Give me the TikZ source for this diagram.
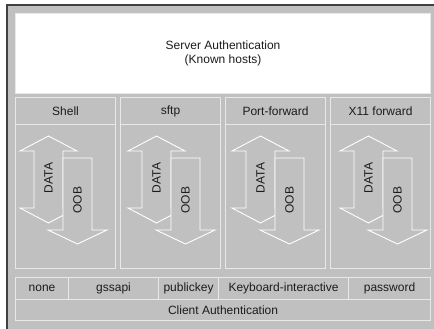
\documentclass[tikz,border=0pt]{standalone}
\usepackage{fontspec}
\setmainfont{Liberation Sans}
\usetikzlibrary{positioning}
\definecolor{PanelGray}{RGB}{192,192,192}
\definecolor{EdgeLight}{RGB}{232,232,232}
\definecolor{FrameDark}{RGB}{64,64,64}
\definecolor{TextDark}{RGB}{28,28,28}

\begin{document}
\begin{tikzpicture}[x=1pt,y=-1pt,
  box/.style={draw=EdgeLight,line width=1.1pt,fill=PanelGray,inner sep=0pt,
    anchor=north west,text=TextDark,font=\fontsize{12}{14.5}\selectfont},
  flow/.style={draw=white,line width=0.9pt,fill=PanelGray,line join=miter},
  flowtext/.style={rotate=90,text=TextDark,inner sep=0pt,font=\fontsize{12}{14}\selectfont}]
  \useasboundingbox (0,0) rectangle (434,329);
  \fill[PanelGray] (7,5) rectangle (434,329);
  \draw[FrameDark,line width=2pt] (7,329) -- (7,5) -- (434,5);
  \node[box,fill=white,minimum width=415pt,minimum height=80pt,align=center]
    (server) at (15,13) {Server Authentication\\(Known hosts)};
  % channels
  \foreach \i/\cx/\ax/\lab in {1/15/48.5/Shell,2/120/156.5/sftp,
      3/225/260.5/Port-forward,4/330/368.5/X11 forward}{
    \pgfmathsetmacro{\bx}{\ax+29}
    \node[box,minimum width=100pt,minimum height=171pt] (chan\i) at (\cx,97) {};
    \node[box,minimum width=100pt,minimum height=27pt] (head\i) at (\cx,97) {\lab};
    \draw[flow] (\ax,136) -- ({\ax+28.5},151) -- ({\ax+14.5},151) -- ({\ax+14.5},208)
      -- ({\ax+28.5},208) -- (\ax,223) -- ({\ax-28.5},208) -- ({\ax-14.5},208)
      -- ({\ax-14.5},151) -- ({\ax-28.5},151) -- cycle;
    \node[flowtext] (data\i) at (\ax,178) {DATA};
    \draw[flow] ({\bx-14.5},158) -- ({\bx+14.5},158) -- ({\bx+14.5},230)
      -- ({\bx+29.5},230) -- (\bx,244) -- ({\bx-29.5},230) -- ({\bx-14.5},230) -- cycle;
    \node[flowtext] (oob\i) at (\bx,200) {OOB};
  }
  % client methods
  \foreach \m/\l/\r/\lab in {none/15/68/none,gss/68/158/gssapi,pub/158/218/publickey,
      kbd/218/348/Keyboard-interactive,pwd/348/430/password}{
    \pgfmathsetmacro{\w}{\r-\l}
    \node[box,minimum width=\w pt,minimum height=22pt] (\m) at (\l,277) {\lab};
  }
  \node[box,minimum width=415pt,minimum height=21pt] (client) at (15,299) {Client Authentication};
\end{tikzpicture}
\end{document}
